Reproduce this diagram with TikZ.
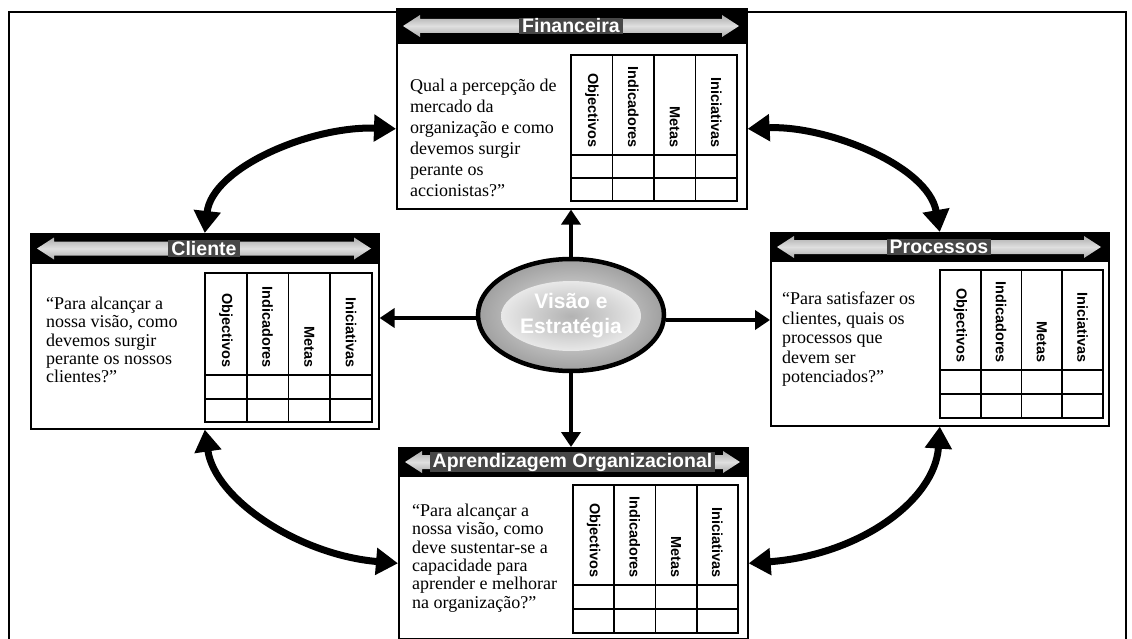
\documentclass[tikz,border=0pt]{standalone}
\usepackage{fontspec}
\setmainfont{Liberation Serif}
\setsansfont{Liberation Sans}
\usetikzlibrary{arrows.meta,calc,shapes.geometric}

\newcommand{\pheader}[5]{% L, T, R, Bh, title
  \fill[black] (#1,#2) rectangle (#3,#4);
  \pgfmathsetmacro\cy{(#2+#4)/2}
  \shade[top color=gray!65,bottom color=gray!65,middle color=gray!25]
    (#1+7,\cy) -- (#1+24,\cy-11) -- (#1+24,\cy-7) -- (#3-24,\cy-7) -- (#3-24,\cy-11)
    -- (#3-7,\cy) -- (#3-24,\cy+11) -- (#3-24,\cy+7) -- (#1+24,\cy+7) -- (#1+24,\cy+11) -- cycle;
  \node[hdrtxt] at ({(#1+#3)/2},\cy) {#5};
}
\newcommand{\ptable}[6]{% x0, x4, ytop, yr1, yr2, ybot
  \pgfmathsetmacro\cw{(#2-#1)/4}
  \foreach \i in {1,2,3} \draw[line width=1.8pt] ({#1+\i*\cw},#3) -- ({#1+\i*\cw},#6);
  \draw[line width=1.8pt] (#1,#4) -- (#2,#4) (#1,#5) -- (#2,#5);
  \draw[line width=2.4pt] (#1,#3) rectangle (#2,#6);
  \foreach \t [count=\i from 0] in {Objectivos,Indicadores,Metas,Iniciativas}
    \node[coltxt] at ({#1+(\i+0.5)*\cw},#4-7) {\t};
}

\begin{document}
\begin{tikzpicture}[x=1pt,y=-1pt,
  panel/.style={draw=black,line width=1.6pt,fill=white,anchor=north west,inner sep=0pt},
  hdrtxt/.style={fill=black!72,text=white,inner xsep=3pt,inner ysep=1pt,
    font=\sffamily\bfseries\fontsize{19.5}{19.5}\selectfont},
  coltxt/.style={rotate=-90,anchor=east,inner sep=0pt,
    font=\sffamily\bfseries\fontsize{14.5}{14.5}\selectfont},
  qtxt/.style={anchor=north west,align=left,inner sep=0pt},
  sarrow/.style={line width=4.5pt,-{Triangle[length=15pt,width=19pt]}},
  carrow/.style={line width=7pt,{Triangle[length=22pt,width=26pt]}-{Triangle[length=22pt,width=26pt]}},
]
\path[use as bounding box,fill=white] (0,0) rectangle (1132,639);

% outer frame
\draw[line width=2pt] (9,642) -- (9,12) -- (1126,12) -- (1126,642);

% panels
\node[panel,minimum width=350pt,minimum height=200pt] (fin) at (396,8) {};
\node[panel,minimum width=348pt,minimum height=195pt] (cli) at (30,233) {};
\node[panel,minimum width=338pt,minimum height=193pt] (proc) at (770,232) {};
\node[panel,minimum width=349pt,minimum height=191pt] (apr) at (398,447) {};

% headers
\pheader{396}{8}{746}{44}{Financeira}
\pheader{30}{233}{378}{264}{Cliente}
\pheader{770}{232}{1108}{262}{Processos}
\pheader{398}{447}{747}{477}{Aprendizagem Organizacional}

% tables
\ptable{571}{737}{55}{155}{178}{201}
\ptable{205}{372}{273}{375}{399}{422}
\ptable{940}{1103}{270}{370}{394}{418}
\ptable{573}{738}{485}{585}{609}{633}

% questions
\node[qtxt,font=\fontsize{18}{21}\selectfont] (qfin) at (410,79)
  {Qual a percepção de\\mercado da\\organização e como\\devemos surgir\\perante os\\accionistas?”};
\node[qtxt,font=\fontsize{18}{18.3}\selectfont] (qcli) at (46,297)
  {“Para alcançar a\\nossa visão, como\\devemos surgir\\perante os nossos\\clientes?”};
\node[qtxt,font=\fontsize{18}{19.5}\selectfont] (qproc) at (782,292)
  {“Para satisfazer os\\clientes, quais os\\processos que\\devem ser\\potenciados?”};
\node[qtxt,font=\fontsize{18}{18.3}\selectfont] (qapr) at (412,504)
  {“Para alcançar a\\nossa visão, como\\deve sustentar-se a\\capacidade para\\aprender e melhorar\\na organização?”};

% centre
\node[ellipse,draw=black,line width=4.5pt,minimum width=186pt,minimum height=112pt,
  inner color=gray!15,outer color=gray!75] (ctr) at (571,315) {};
\node[ellipse,minimum width=140pt,minimum height=70pt,inner color=gray!60,outer color=gray!18] (ctrglow) at (571,316) {};
\node[align=center,text=white,font=\sffamily\bfseries\fontsize{21}{25}\selectfont] (ctrtxt) at (571,316)
  {Visão e\\Estratégia};

% straight arrows
\draw[sarrow] (ctr.north) -- (ctr.north |- fin.south);
\draw[sarrow] (ctr.south) -- (ctr.south |- apr.north);
\draw[sarrow] ([yshift=-3pt]ctr.west) -- ([yshift=-3pt]ctr.west -| cli.east);
\draw[sarrow] ([yshift=-5pt]ctr.east) -- ([yshift=-5pt]ctr.east -| proc.west);

% curved arrows
\draw[carrow] (cli.north) .. controls (212,168) and (310,126) .. ([yshift=-20pt]fin.west);
\draw[carrow] ([yshift=-20pt]fin.east) .. controls (825,125) and (928,165) .. (proc.north);
\draw[carrow] (cli.south) .. controls (215,500) and (300,555) .. ([yshift=-20pt]apr.west);
\draw[carrow] (proc.south) .. controls (935,500) and (860,555) .. ([yshift=-20pt]apr.east);
\end{tikzpicture}
\end{document}
